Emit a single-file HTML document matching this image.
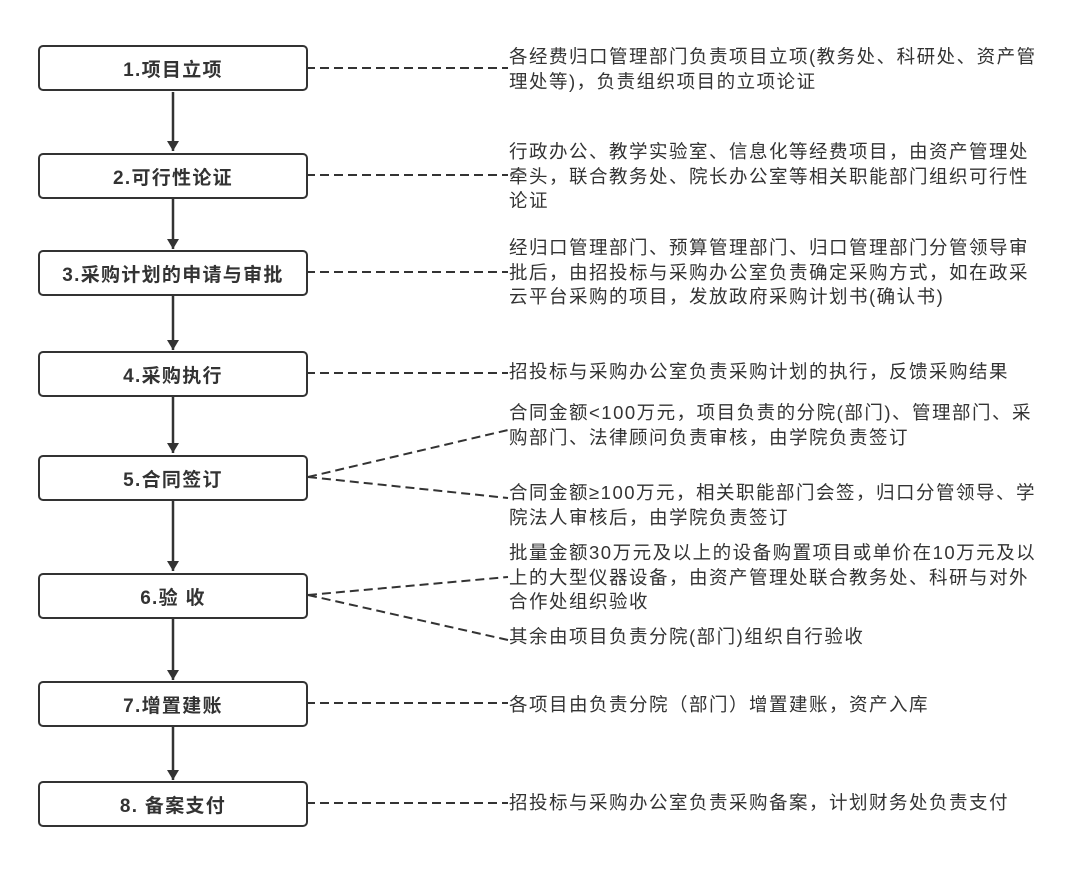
<!DOCTYPE html>
<html><head><meta charset="utf-8"><style>
body{margin:0;width:1068px;height:870px;background:#fff;overflow:hidden;position:relative;font-family:"Liberation Sans","Noto Sans CJK SC",sans-serif;color:#333}
.b{position:absolute;left:38px;width:266px;height:42px;border:2px solid #333;border-radius:5px;display:flex;align-items:center;justify-content:center;font-weight:bold;font-size:19px;letter-spacing:1.3px;color:#333}
.t{position:absolute;left:509px;font-size:18.5px;letter-spacing:1.5px;line-height:24.5px;white-space:nowrap;color:#333}
svg{position:absolute;left:0;top:0}
</style></head><body>
<svg width="1068" height="870">
<defs><marker id="a" markerWidth="10" markerHeight="14" refX="10" refY="7" orient="auto" markerUnits="userSpaceOnUse"><path d="M0,1 L10,7 L0,13 Z" fill="#333"/></marker></defs>
<g stroke="#333" stroke-width="2.5" fill="none">
<line x1="173" y1="92" x2="173" y2="151" marker-end="url(#a)"/>
<line x1="173" y1="198" x2="173" y2="249" marker-end="url(#a)"/>
<line x1="173" y1="295" x2="173" y2="350" marker-end="url(#a)"/>
<line x1="173" y1="396" x2="173" y2="453" marker-end="url(#a)"/>
<line x1="173" y1="500" x2="173" y2="571" marker-end="url(#a)"/>
<line x1="173" y1="619" x2="173" y2="680" marker-end="url(#a)"/>
<line x1="173" y1="726" x2="173" y2="780" marker-end="url(#a)"/>
</g>
<g stroke="#333" stroke-width="2" fill="none" stroke-dasharray="9,5">
<line x1="306" y1="68" x2="508" y2="68"/>
<line x1="306" y1="175" x2="508" y2="175"/>
<line x1="306" y1="272" x2="508" y2="272"/>
<line x1="306" y1="373" x2="508" y2="373"/>
<line x1="308" y1="477" x2="508" y2="430"/>
<line x1="308" y1="477" x2="508" y2="498"/>
<line x1="308" y1="595" x2="508" y2="577"/>
<line x1="308" y1="595" x2="508" y2="640"/>
<line x1="306" y1="703" x2="508" y2="703"/>
<line x1="306" y1="803" x2="508" y2="803"/>
</g>
</svg>
<div class="b" style="top:45px">1.项目立项</div>
<div class="b" style="top:153px">2.可行性论证</div>
<div class="b" style="top:250px">3.采购计划的申请与审批</div>
<div class="b" style="top:351px">4.采购执行</div>
<div class="b" style="top:455px">5.合同签订</div>
<div class="b" style="top:573px">6.验 收</div>
<div class="b" style="top:681px">7.增置建账</div>
<div class="b" style="top:781px">8. 备案支付</div>
<div class="t" style="top:45px">各经费归口管理部门负责项目立项(教务处、科研处、资产管<br>理处等)，负责组织项目的立项论证</div>
<div class="t" style="top:140px">行政办公、教学实验室、信息化等经费项目，由资产管理处<br>牵头，联合教务处、院长办公室等相关职能部门组织可行性<br>论证</div>
<div class="t" style="top:236px">经归口管理部门、预算管理部门、归口管理部门分管领导审<br>批后，由招投标与采购办公室负责确定采购方式，如在政采<br>云平台采购的项目，发放政府采购计划书(确认书)</div>
<div class="t" style="top:360px">招投标与采购办公室负责采购计划的执行，反馈采购结果</div>
<div class="t" style="top:401px">合同金额&lt;100万元，项目负责的分院(部门)、管理部门、采<br>购部门、法律顾问负责审核，由学院负责签订</div>
<div class="t" style="top:481px">合同金额≥100万元，相关职能部门会签，归口分管领导、学<br>院法人审核后，由学院负责签订</div>
<div class="t" style="top:541px">批量金额30万元及以上的设备购置项目或单价在10万元及以<br>上的大型仪器设备，由资产管理处联合教务处、科研与对外<br>合作处组织验收</div>
<div class="t" style="top:625px">其余由项目负责分院(部门)组织自行验收</div>
<div class="t" style="top:693px">各项目由负责分院（部门）增置建账，资产入库</div>
<div class="t" style="top:791px">招投标与采购办公室负责采购备案，计划财务处负责支付</div>
</body></html>
